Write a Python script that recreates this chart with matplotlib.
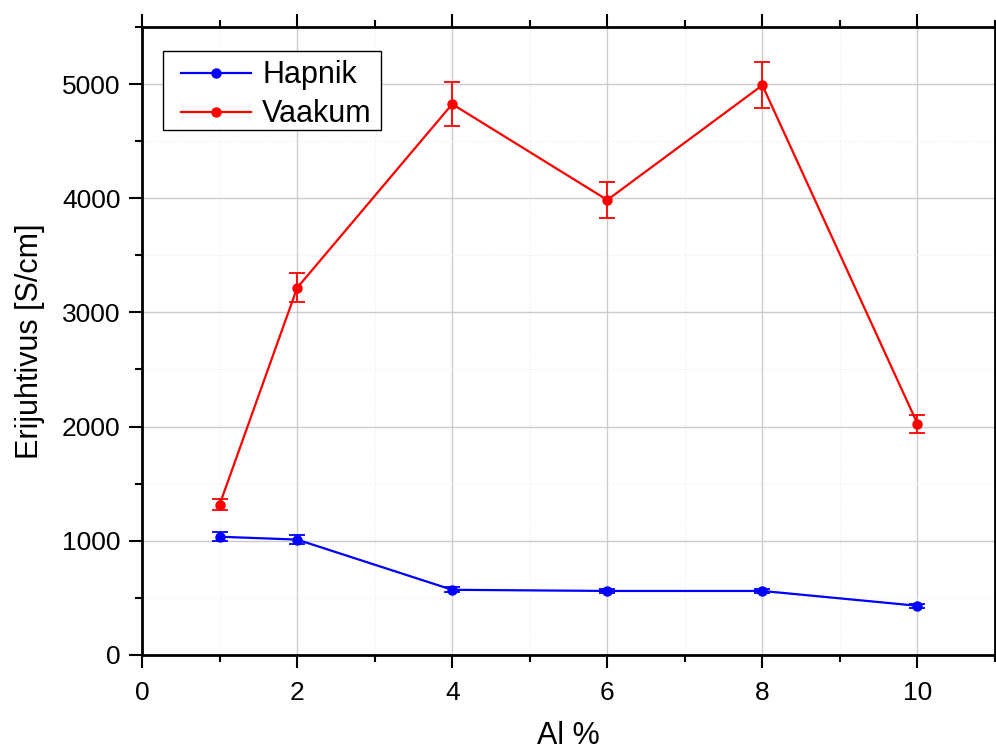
import matplotlib.pyplot as plt
from matplotlib.lines import Line2D
from matplotlib.patches import Rectangle
from matplotlib.ticker import MultipleLocator

plt.rcParams['font.family'] = ['Liberation Sans', 'DejaVu Sans']

al = [1, 2, 4, 6, 8, 10]

hapnik = [1035, 1010, 570, 560, 560, 430]
hapnik_err = [38, 40, 22, 20, 20, 18]

vaakum = [1315, 3215, 4825, 3985, 4990, 2025]
vaakum_err = [50, 128, 195, 160, 200, 80]

fig = plt.figure(figsize=(9.96, 7.51), dpi=100)
ax = fig.add_axes([0.1426, 0.128, 0.8564, 0.836])

ax.errorbar(al, hapnik, yerr=hapnik_err, color='#0000ff', marker='o', ms=6.5,
            lw=1.6, elinewidth=1.3, capsize=6, capthick=1.3, zorder=3)
ax.errorbar(al, vaakum, yerr=vaakum_err, color='#ff0000', marker='o', ms=6.5,
            lw=1.6, elinewidth=1.3, capsize=6, capthick=1.3, zorder=3)

ax.set_xlim(0, 11)
ax.set_ylim(0, 5500)
ax.xaxis.set_major_locator(MultipleLocator(2))
ax.xaxis.set_minor_locator(MultipleLocator(1))
ax.yaxis.set_major_locator(MultipleLocator(1000))
ax.yaxis.set_minor_locator(MultipleLocator(500))

ax.grid(which='major', color='#cccccc', lw=1.0, zorder=0)
ax.grid(which='minor', color='#eeeeee', lw=0.8, ls=':', zorder=0)

for s in ax.spines.values():
    s.set_linewidth(2)

ax.tick_params(which='major', direction='out', length=9.5, width=1.5,
               labelsize=19, top=True, right=False, pad=6)
ax.tick_params(which='minor', direction='out', length=5, width=1.5,
               top=True, right=False)
ax.tick_params(axis='x', which='major', pad=9)

ax.set_xlabel('Al %', fontsize=22, labelpad=12)
ax.set_ylabel('Erijuhtivus [S/cm]', fontsize=22, labelpad=12)

# legend box drawn separately so the padding can differ per side
ax.add_patch(Rectangle((0.0246, 0.836), 0.2559, 0.1258, transform=ax.transAxes,
                       facecolor='white', edgecolor='black', lw=1.0, zorder=5))
handles = [Line2D([], [], color='#0000ff', marker='o', ms=6.5, lw=1.6),
           Line2D([], [], color='#ff0000', marker='o', ms=6.5, lw=1.6)]
leg = ax.legend(handles, ['Hapnik', 'Vaakum'], loc='upper left',
                bbox_to_anchor=(0.0458, 0.947), borderaxespad=0, borderpad=0,
                fontsize=22, frameon=False, handlelength=2.3,
                handletextpad=0.35, labelspacing=0.3)
leg.set_zorder(6)

fig.savefig('out.png', dpi=100)
